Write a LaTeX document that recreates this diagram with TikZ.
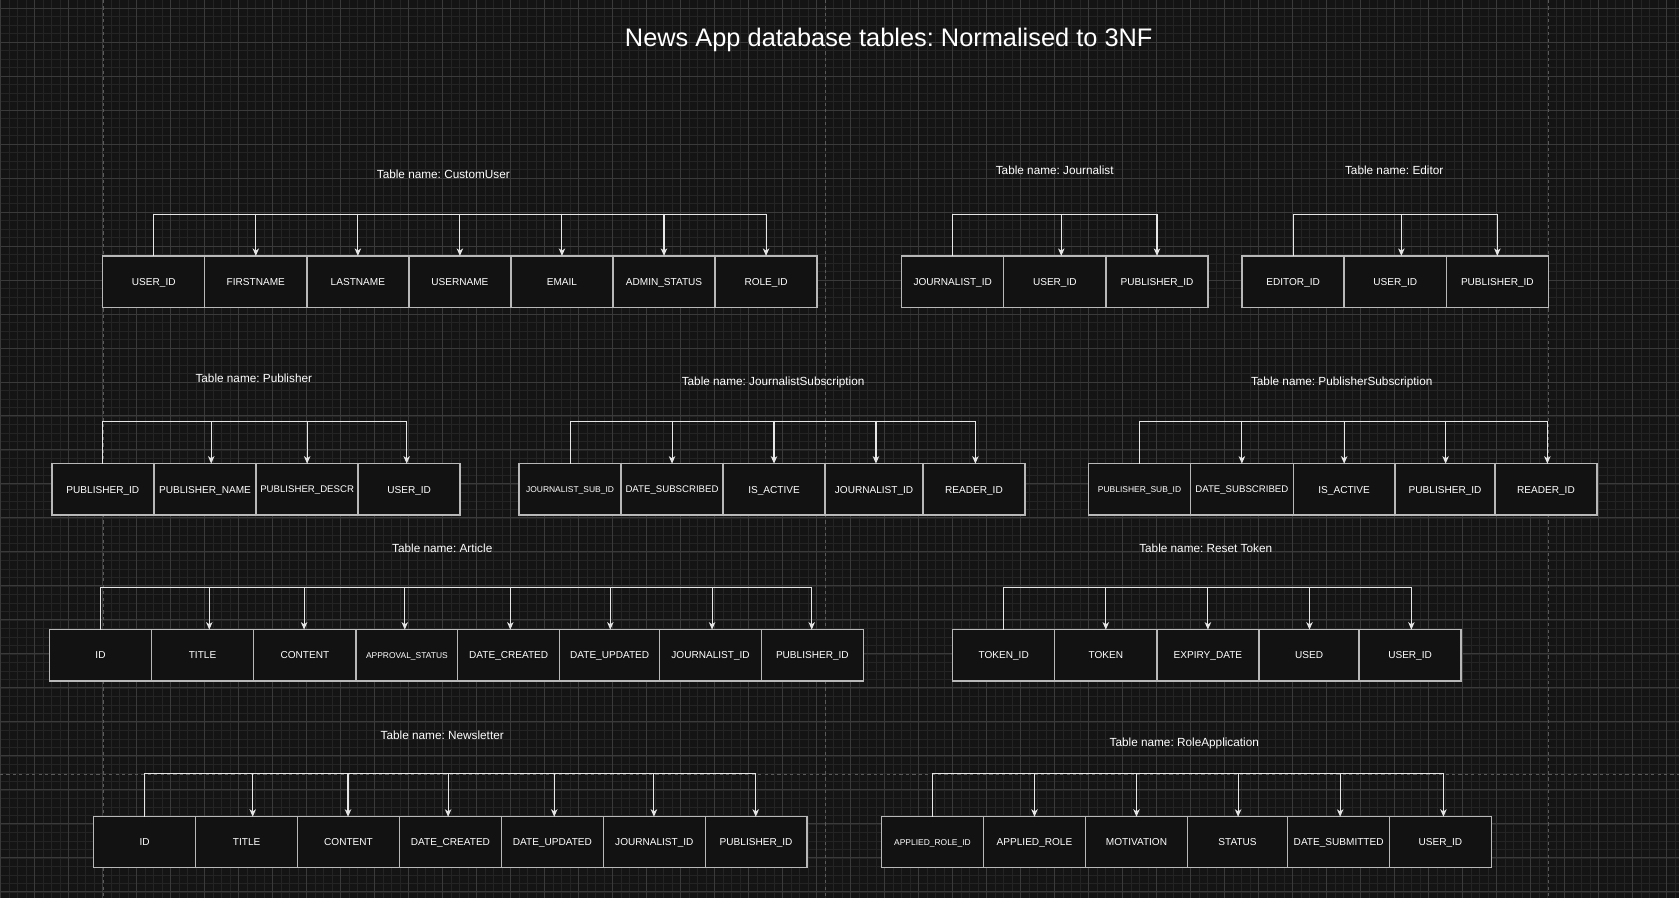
\documentclass[tikz,border=0pt]{standalone}
\usepackage{fontspec}
\setmainfont{Liberation Sans}
\usetikzlibrary{arrows.meta}
\frenchspacing
\definecolor{bgcol}{HTML}{141414}
\definecolor{minorcol}{HTML}{242424}
\definecolor{majorcol}{HTML}{3A3A3A}
\definecolor{pagecol}{HTML}{5A5A5A}
\definecolor{cellfill}{HTML}{121212}
\definecolor{cellline}{HTML}{B8B8B8}
\definecolor{conncol}{HTML}{E6E6E6}
\newcommand\cellfnt{\fontsize{9.4}{11}\selectfont}
\newcommand\midfnt{\fontsize{9.0}{10.5}\selectfont}
\newcommand\smallfnt{\fontsize{7.9}{9}\selectfont}
\newcommand\labfnt{\fontsize{11}{13}\selectfont}
\newcommand\titfnt{\fontsize{23.7}{28}\selectfont}
\tikzset{
  cell/.style={draw=cellline, fill=cellfill, line width=1.3pt, text=white, font=\cellfnt,
    minimum width=95.3pt, minimum height=48pt, inner sep=0pt, outer sep=0pt,
    text height=6.8pt, text depth=0pt},
  midcell/.style={cell, font=\midfnt, text height=6.5pt},
  smallcell/.style={cell, font=\smallfnt, text height=5.7pt},
  tablabel/.style={text=white, font=\labfnt, inner sep=1pt},
  conn/.style={draw=conncol, line width=1pt, -{Stealth[length=7pt,width=6pt,inset=2pt]}},
  minorgrid/.style={draw=minorcol, line width=0.8pt},
  majorgrid/.style={draw=majorcol, line width=0.9pt},
  pageline/.style={draw=pagecol, line width=0.9pt, dash pattern=on 3pt off 3pt},
}
\begin{document}
\begin{tikzpicture}[x=1pt,y=-1pt]
\useasboundingbox (0,0) rectangle (1568,839);
\fill[bgcol] (0,0) rectangle (1568,839);
% grid
\draw[minorgrid] \foreach \k in {0,...,198} {({0.65+7.938*\k},0) -- ++(0,839)};
\draw[minorgrid] \foreach \k in {0,...,106} {(0,{-0.47+7.938*\k}) -- ++(1568,0)};
\draw[majorgrid] \foreach \k in {0,...,49} {({0.65+31.75*\k},0) -- ++(0,839)};
\draw[majorgrid] \foreach \k in {0,...,26} {(0,{7.47+31.75*\k}) -- ++(1568,0)};
% page breaks
\draw[pageline] (96.5,0) -- (96.5,839);
\draw[pageline] (770.7,0) -- (770.7,839);
\draw[pageline] (1446,0) -- (1446,839);
\draw[pageline] (0,723.1) -- (1568,723.1);

% title
\node[text=white, font=\titfnt, inner sep=0pt] (title) at (830,37) {News App database tables: Normalised to 3NF};

% CustomUser
\node[tablabel] (tcu) at (414,163) {Table name: CustomUser};
\node[cell] (cu1) at (143.6,263) {USER\_ID};
\node[cell] (cu2) at (238.9,263) {FIRSTNAME};
\node[cell] (cu3) at (334.2,263) {LASTNAME};
\node[cell] (cu4) at (429.5,263) {USERNAME};
\node[cell] (cu5) at (524.8,263) {EMAIL};
\node[cell] (cu6) at (620.1,263) {ADMIN\_STATUS};
\node[cell] (cu7) at (715.4,263) {ROLE\_ID};

% Journalist
\node[tablabel] (tjo) at (985,159) {Table name: Journalist};
\node[cell, minimum width=95.4pt] (jo1) at (889.7,263) {JOURNALIST\_ID};
\node[cell, minimum width=95.4pt] (jo2) at (985.1,263) {USER\_ID};
\node[cell, minimum width=95.4pt] (jo3) at (1080.5,263) {PUBLISHER\_ID};

% Editor
\node[tablabel] (ted) at (1302,159) {Table name: Editor};
\node[cell] (ed1) at (1207.65,263) {EDITOR\_ID};
\node[cell] (ed2) at (1303,263) {USER\_ID};
\node[cell] (ed3) at (1398.35,263) {PUBLISHER\_ID};

% Publisher
\node[tablabel] (tpu) at (237,353) {Table name: Publisher};
\node[cell] (pu1) at (96.05,457) {PUBLISHER\_ID};
\node[cell] (pu2) at (191.45,457) {PUBLISHER\_NAME};
\node[midcell] (pu3) at (286.85,457) {PUBLISHER\_DESCR};
\node[cell] (pu4) at (382.1,457) {USER\_ID};

% JournalistSubscription
\node[tablabel] (tjs) at (722,357) {Table name: JournalistSubscription};
\node[smallcell] (js1) at (532.35,457) {JOURNALIST\_SUB\_ID};
\node[midcell, minimum width=95.2pt] (js2) at (627.6,457) {DATE\_SUBSCRIBED};
\node[cell] (js3) at (722.85,457) {IS\_ACTIVE};
\node[cell, minimum width=91.5pt] (js4) at (816.25,457) {JOURNALIST\_ID};
\node[cell, minimum width=95.2pt] (js5) at (909.6,457) {READER\_ID};

% PublisherSubscription
\node[tablabel] (tps) at (1253,357) {Table name: PublisherSubscription};
\node[smallcell, minimum width=95.2pt] (ps1) at (1064.2,457) {PUBLISHER\_SUB\_ID};
\node[midcell, minimum width=95.9pt] (ps2) at (1159.75,457) {DATE\_SUBSCRIBED};
\node[cell, minimum width=95.2pt] (ps3) at (1255.3,457) {IS\_ACTIVE};
\node[cell, minimum width=93.3pt] (ps4) at (1349.55,457) {PUBLISHER\_ID};
\node[cell, minimum width=95.1pt] (ps5) at (1443.75,457) {READER\_ID};

% Article
\node[tablabel] (tar) at (413,512) {Table name: Article};
\node[cell, minimum width=95.1pt] (ar1) at (93.85,612) {ID};
\node[cell, minimum width=95.5pt] (ar2) at (189.15,612) {TITLE};
\node[cell, minimum width=95.6pt] (ar3) at (284.7,612) {CONTENT};
\node[smallcell, minimum width=95pt] (ar4) at (380,612) {APPROVAL\_STATUS};
\node[cell, minimum width=95.1pt] (ar5) at (475.05,612) {DATE\_CREATED};
\node[cell, minimum width=93.5pt] (ar6) at (569.35,612) {DATE\_UPDATED};
\node[cell, minimum width=95pt] (ar7) at (663.6,612) {JOURNALIST\_ID};
\node[cell, minimum width=95.1pt] (ar8) at (758.65,612) {PUBLISHER\_ID};

% Reset Token
\node[tablabel] (trt) at (1126,512) {Table name: Reset Token};
\node[cell] (rt1) at (937.35,612) {TOKEN\_ID};
\node[cell, minimum width=95.4pt] (rt2) at (1032.7,612) {TOKEN};
\node[cell] (rt3) at (1128.05,612) {EXPIRY\_DATE};
\node[cell, minimum width=93.6pt] (rt4) at (1222.5,612) {USED};
\node[cell, minimum width=95.1pt] (rt5) at (1316.85,612) {USER\_ID};

% Newsletter
\node[tablabel] (tnl) at (413,687) {Table name: Newsletter};
\node[cell, minimum width=95.2pt, minimum height=47.5pt] (nl1) at (135.1,786.5) {ID};
\node[cell, minimum width=95.2pt, minimum height=47.5pt] (nl2) at (230.3,786.5) {TITLE};
\node[cell, minimum width=95.2pt, minimum height=47.5pt] (nl3) at (325.5,786.5) {CONTENT};
\node[cell, minimum width=95.2pt, minimum height=47.5pt] (nl4) at (420.7,786.5) {DATE\_CREATED};
\node[cell, minimum width=95.2pt, minimum height=47.5pt] (nl5) at (515.9,786.5) {DATE\_UPDATED};
\node[cell, minimum width=95.2pt, minimum height=47.5pt] (nl6) at (611.1,786.5) {JOURNALIST\_ID};
\node[cell, minimum width=94.8pt, minimum height=47.5pt] (nl7) at (706.1,786.5) {PUBLISHER\_ID};

% RoleApplication
\node[tablabel] (tra) at (1106,694) {Table name: RoleApplication};
\node[smallcell, minimum width=95.4pt, minimum height=47.5pt] (ra1) at (870.8,786.5) {APPLIED\_ROLE\_ID};
\node[cell, minimum width=95.2pt, minimum height=47.5pt] (ra2) at (966.1,786.5) {APPLIED\_ROLE};
\node[cell, minimum width=95.3pt, minimum height=47.5pt] (ra3) at (1061.35,786.5) {MOTIVATION};
\node[cell, minimum width=93.5pt, minimum height=47.5pt] (ra4) at (1155.75,786.5) {STATUS};
\node[cell, minimum width=95.3pt, minimum height=47.5pt] (ra5) at (1250.15,786.5) {DATE\_SUBMITTED};
\node[cell, minimum width=94.8pt, minimum height=47.5pt] (ra6) at (1345.2,786.5) {USER\_ID};

% connectors
\foreach \t in {cu2,cu3,cu4,cu5,cu6,cu7} {\draw[conn] (cu1.north) -- ++(0,-39) -| (\t.north);}
\draw[conn] (jo1.north) -- ++(0,-39) -| ([xshift=6pt]jo2.north);
\draw[conn] (jo1.north) -- ++(0,-39) -| (jo3.north);
\draw[conn] (ed1.north) -- ++(0,-39) -| ([xshift=5.7pt]ed2.north);
\draw[conn] (ed1.north) -- ++(0,-39) -| (ed3.north);
\draw[conn] (pu1.north) -- ++(0,-39) -| ([xshift=5.8pt]pu2.north);
\draw[conn] (pu1.north) -- ++(0,-39) -| (pu3.north);
\draw[conn] (pu1.north) -- ++(0,-39) -| ([xshift=-2.3pt]pu4.north);
\draw[conn] (js1.north) -- ++(0,-39) -| (js2.north);
\draw[conn] (js1.north) -- ++(0,-39) -| (js3.north);
\draw[conn] (js1.north) -- ++(0,-39) -| ([xshift=1.8pt]js4.north);
\draw[conn] (js1.north) -- ++(0,-39) -| ([xshift=1.3pt]js5.north);
\draw[conn] (ps1.north) -- ++(0,-39) -| (ps2.north);
\draw[conn] (ps1.north) -- ++(0,-39) -| (ps3.north);
\draw[conn] (ps1.north) -- ++(0,-39) -| ([xshift=0.5pt]ps4.north);
\draw[conn] (ps1.north) -- ++(0,-39) -| ([xshift=1.3pt]ps5.north);
\draw[conn] (ar1.north) -- ++(0,-39) -| ([xshift=6.3pt]ar2.north);
\draw[conn] (ar1.north) -- ++(0,-39) -| ([xshift=-0.7pt]ar3.north);
\draw[conn] (ar1.north) -- ++(0,-39) -| ([xshift=-2pt]ar4.north);
\draw[conn] (ar1.north) -- ++(0,-39) -| ([xshift=1.5pt]ar5.north);
\draw[conn] (ar1.north) -- ++(0,-39) -| ([xshift=0.6pt]ar6.north);
\draw[conn] (ar1.north) -- ++(0,-39) -| ([xshift=1.4pt]ar7.north);
\draw[conn] (ar1.north) -- ++(0,-39) -| ([xshift=-0.6pt]ar8.north);
\draw[conn] (rt1.north) -- ++(0,-39) -| (rt2.north);
\draw[conn] (rt1.north) -- ++(0,-39) -| (rt3.north);
\draw[conn] (rt1.north) -- ++(0,-39) -| ([xshift=0.4pt]rt4.north);
\draw[conn] (rt1.north) -- ++(0,-39) -| ([xshift=1.2pt]rt5.north);
\draw[conn] (nl1.north) -- ++(0,-40) -| ([xshift=5.7pt]nl2.north);
\draw[conn] (nl1.north) -- ++(0,-40) -| ([xshift=-0.5pt]nl3.north);
\draw[conn] (nl1.north) -- ++(0,-40) -| ([xshift=-2.2pt]nl4.north);
\draw[conn] (nl1.north) -- ++(0,-40) -| ([xshift=1.7pt]nl5.north);
\draw[conn] (nl1.north) -- ++(0,-40) -| ([xshift=-0.4pt]nl6.north);
\draw[conn] (nl1.north) -- ++(0,-40) -| ([xshift=-0.3pt]nl7.north);
\draw[conn] (ra1.north) -- ++(0,-40) -| (ra2.north);
\draw[conn] (ra1.north) -- ++(0,-40) -| (ra3.north);
\draw[conn] (ra1.north) -- ++(0,-40) -| ([xshift=0.5pt]ra4.north);
\draw[conn] (ra1.north) -- ++(0,-40) -| ([xshift=1.4pt]ra5.north);
\draw[conn] (ra1.north) -- ++(0,-40) -| ([xshift=2.8pt]ra6.north);
\end{tikzpicture}
\end{document}
